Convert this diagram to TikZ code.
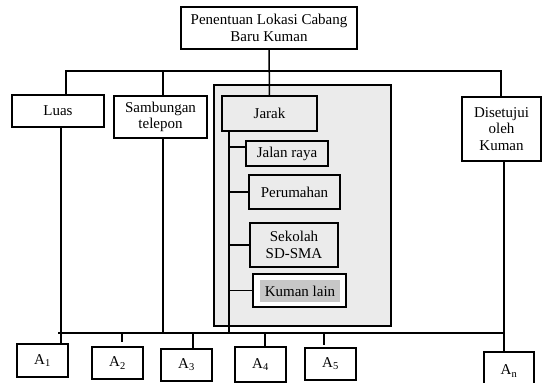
\documentclass[tikz,border=0pt]{standalone}
\usepackage{fontspec}
\setmainfont{Liberation Serif}
\usetikzlibrary{calc}
\begin{document}
\begin{tikzpicture}[x=1pt,y=-1pt,
  box/.style={draw, line width=1.7pt, inner sep=0pt, outer sep=0pt, align=center, fill=white,
    font=\fontsize{15}{16.5}\selectfont},
  inbox/.style={box, fill=black!8},
  panelbox/.style={draw, line width=1.7pt, fill=black!8, inner sep=0pt, outer sep=0pt},
  conn/.style={line width=1.5pt},
  thin/.style={line width=1.2pt}]
\useasboundingbox (0,0) rectangle (542,383);
% title
\node[box, minimum width=176, minimum height=42] (top) at (269,28) {Penentuan Lokasi Cabang\\Baru Kuman};
% level boxes
\node[box, minimum width=92, minimum height=32] (luas) at (58,111) {Luas};
\node[box, minimum width=93, minimum height=42] (samb) at (160.5,117) {Sambungan\\telepon};
\node[panelbox, minimum width=177, minimum height=241] (panel) at (302.5,205.5) {};
\node[inbox, minimum width=95, minimum height=35] (jarak) at (269.5,113.5) {Jarak};
\node[inbox, minimum width=82, minimum height=25] (jalan) at (287,153.5) {Jalan raya};
\node[inbox, minimum width=91, minimum height=34] (perum) at (294.5,192) {Perumahan};
\node[inbox, minimum width=88, minimum height=44] (sekolah) at (294,245) {Sekolah\\SD-SMA};
\node[box, minimum width=93, minimum height=33] (kuman) at (299.5,290.5) {};
\node[inner sep=0pt, fill=black!22, minimum width=80, minimum height=22, font=\fontsize{15}{16.5}\selectfont] (kumanin) at (300,291) {Kuman lain};
\node[box, minimum width=79, minimum height=64] (dis) at (501.5,129) {Disetujui\\oleh\\Kuman};
% alternatives
\node[box, minimum width=51, minimum height=33] (a1) at (42.5,360.5) {A\textsubscript{1}};
\node[box, minimum width=51, minimum height=32] (a2) at (117.5,363) {A\textsubscript{2}};
\node[box, minimum width=51, minimum height=32] (a3) at (186.5,365) {A\textsubscript{3}};
\node[box, minimum width=51, minimum height=35] (a4) at (260.5,364.5) {A\textsubscript{4}};
\node[box, minimum width=51, minimum height=32] (a5) at (330.5,364) {A\textsubscript{5}};
\node[box, minimum width=50, minimum height=38] (an) at (509,371) {A\textsubscript{n}};
% coordinates
\coordinate (hl) at (66,71);
\coordinate (hs) at (163,71);
\coordinate (hr) at (501,71);
\coordinate (bl) at (58,333);
\coordinate (b1) at (61,333);
\coordinate (bs) at (163,333);
\coordinate (br) at (504,333);
\coordinate (t2) at (122,333);
\coordinate (t3) at (193,333);
\coordinate (t4) at (265,333);
\coordinate (t5) at (324,333);
\coordinate (tr) at (229,131);
\coordinate (trb) at (229,332);
% top connectors
\draw[conn] (top.south) -- (jarak.north);
\draw[conn] (luas.north -| hl) -- (hl) -- (hr) -- (dis.north -| hr);
\draw[conn] (hs) -- (samb.north -| hs);
% drops
\draw[conn] (luas.south -| b1) -- (a1.north -| b1);
\draw[conn] (samb.south -| bs) -- (bs);
\draw[conn] (dis.south -| br) -- (an.north -| br);
% bus
\draw[conn] (bl) -- (br);
\draw[conn] (t2) -- ++(0,9);
\draw[conn] (t3) -- (a3.north -| t3);
\draw[conn] (t4) -- (a4.north -| t4);
\draw[conn] (t5) -- ++(0,12);
% jarak tree
\draw[thin] (tr) -- (trb);
\draw[conn] (tr |- 0,147) -- (jalan.west |- 0,147);
\draw[thin] (tr |- perum.west) -- (perum.west);
\draw[thin] (tr |- sekolah.west) -- (sekolah.west);
\draw[thin] (tr |- kuman.west) -- (kuman.west);
\end{tikzpicture}
\end{document}
